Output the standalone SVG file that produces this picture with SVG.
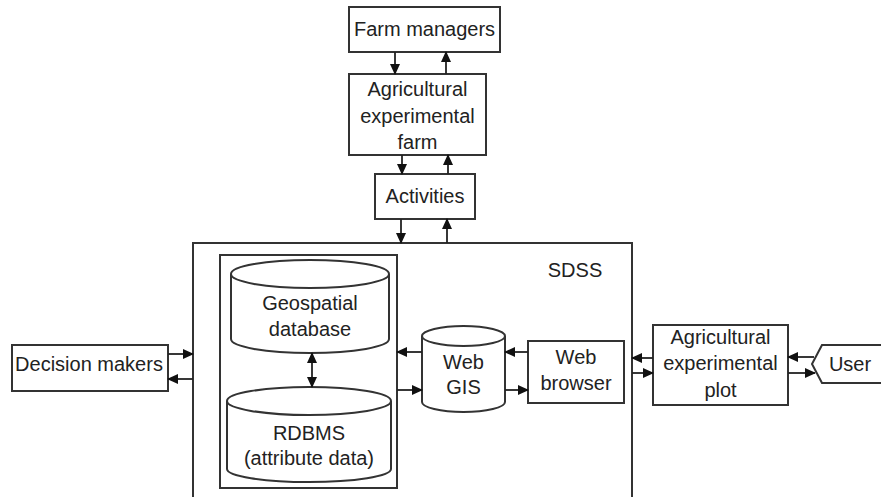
<svg xmlns="http://www.w3.org/2000/svg" width="881" height="497" viewBox="0 0 881 497">
<style>
.b{fill:#fff;stroke:#333;stroke-width:2}
.t{font-family:"Liberation Sans",Arial,sans-serif;font-size:20px;fill:#222;text-anchor:middle}
.c line{stroke:#222;stroke-width:1.8;marker-end:url(#ah)}
</style>
<defs>
<marker id="ah" markerWidth="11" markerHeight="11" refX="10" refY="5.5" orient="auto" markerUnits="userSpaceOnUse">
<path d="M0,0.5 L11,5.5 L0,10.5 Z" fill="#111"/>
</marker>
</defs>
<rect width="881" height="497" fill="#fff"/>
<g id="sdss">
<path class="b" d="M193,500 V243 H632 V500"/>
<text class="t" x="575" y="277">SDSS</text>
</g>
<g id="inner">
<rect class="b" x="220" y="255" width="177" height="233"/>
</g>
<g id="farm-managers">
<rect class="b" x="349" y="7" width="151" height="45"/>
<text class="t" x="424.5" y="36">Farm managers</text>
</g>
<g id="farm">
<rect class="b" x="349" y="74" width="137" height="81"/>
<text class="t" x="417.5" y="96">Agricultural</text>
<text class="t" x="417.5" y="123">experimental</text>
<text class="t" x="417.5" y="149">farm</text>
</g>
<g id="activities">
<rect class="b" x="375" y="174" width="100" height="45"/>
<text class="t" x="425" y="203">Activities</text>
</g>
<g id="geospatial">
<path class="b" d="M231,274 V339 A79,14 0 0 0 389,339 V274"/>
<ellipse class="b" cx="310" cy="274" rx="79" ry="14"/>
<text class="t" x="310" y="310">Geospatial</text>
<text class="t" x="310" y="336">database</text>
</g>
<g id="rdbms">
<path class="b" d="M227,401 V469 A82,13 0 0 0 391,469 V401"/>
<ellipse class="b" cx="309" cy="401" rx="82" ry="14"/>
<text class="t" x="309" y="440">RDBMS</text>
<text class="t" x="309" y="465">(attribute data)</text>
</g>
<g id="webgis">
<path class="b" d="M422,336 V402 A41.5,10 0 0 0 505,402 V336"/>
<ellipse class="b" cx="463.5" cy="336" rx="41.5" ry="10"/>
<text class="t" x="463.5" y="369">Web</text>
<text class="t" x="463.5" y="394">GIS</text>
</g>
<g id="browser">
<rect class="b" x="528" y="341" width="96" height="62"/>
<text class="t" x="576" y="364">Web</text>
<text class="t" x="576" y="390">browser</text>
</g>
<g id="plot">
<rect class="b" x="653" y="325" width="135" height="80"/>
<text class="t" x="720.5" y="344">Agricultural</text>
<text class="t" x="720.5" y="370">experimental</text>
<text class="t" x="720.5" y="397">plot</text>
</g>
<g id="user">
<path class="b" d="M884,345 H822 L812,364 L822,383 H884"/>
<text class="t" x="850" y="371">User</text>
</g>
<g id="decision">
<rect class="b" x="12" y="345" width="156" height="46"/>
<text class="t" x="89" y="371">Decision makers</text>
</g>
<g id="connectors" class="c">
<line x1="395" y1="52" x2="395" y2="74"/>
<line x1="446" y1="74" x2="446" y2="52"/>
<line x1="402" y1="155" x2="402" y2="174"/>
<line x1="448" y1="174" x2="448" y2="155"/>
<line x1="401" y1="219" x2="401" y2="243"/>
<line x1="447" y1="243" x2="447" y2="219"/>
<line x1="312" y1="368" x2="312" y2="353"/>
<line x1="312" y1="368" x2="312" y2="387"/>
<line x1="422" y1="352" x2="397" y2="352"/>
<line x1="397" y1="390" x2="422" y2="390"/>
<line x1="528" y1="352" x2="505" y2="352"/>
<line x1="505" y1="390" x2="528" y2="390"/>
<line x1="653" y1="358" x2="632" y2="358"/>
<line x1="632" y1="373" x2="653" y2="373"/>
<line x1="814" y1="357" x2="788" y2="357"/>
<line x1="788" y1="373" x2="815" y2="373"/>
<line x1="168" y1="354" x2="193" y2="354"/>
<line x1="193" y1="379" x2="168" y2="379"/>
</g>
</svg>
